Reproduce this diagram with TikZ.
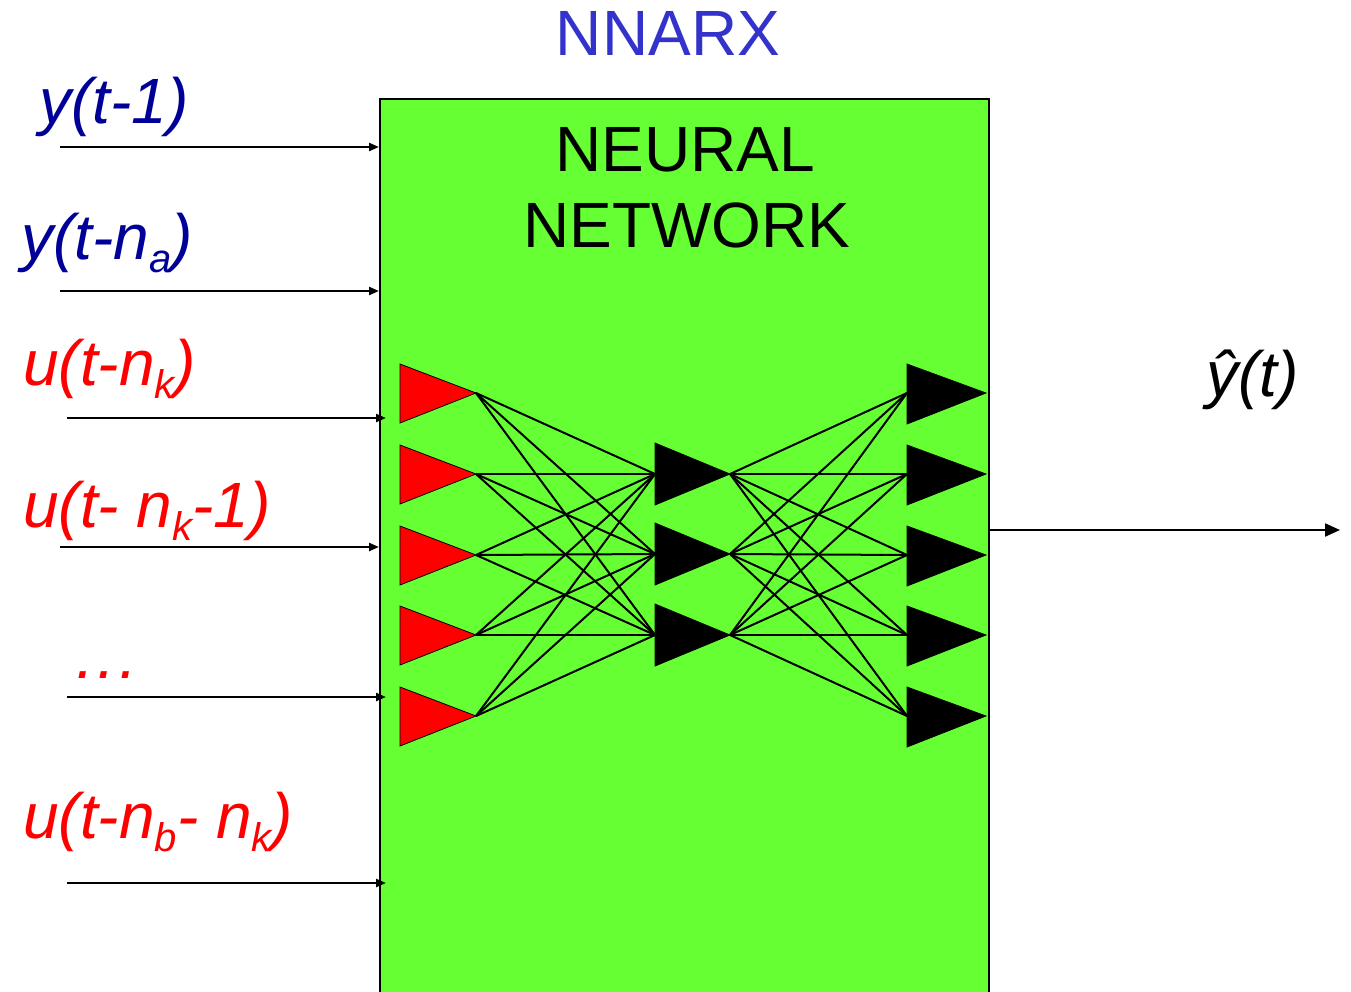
\documentclass[tikz,border=0pt]{standalone}
\usepackage{fontspec}
\setmainfont{Liberation Sans}
\usetikzlibrary{arrows.meta}
\definecolor{boxgreen}{RGB}{102,255,51}
\definecolor{titleblue}{RGB}{51,51,204}
\definecolor{ydark}{RGB}{0,0,153}
\definecolor{ured}{RGB}{255,0,0}
\newcommand{\lowsub}[1]{\raisebox{-13pt}{\fontsize{40}{40}\selectfont #1}}
\begin{document}
\begin{tikzpicture}[x=1pt,y=-1pt,
  lbl/.style={inner sep=0pt, anchor=base west, font=\fontsize{64}{70}\selectfont\itshape},
  ttl/.style={inner sep=0pt, anchor=base, font=\fontsize{64}{70}\selectfont},
  inarrow/.style={line width=2.2pt, -{Triangle[length=10pt,width=8pt]}},
  outarrow/.style={line width=2.2pt, -{Triangle[length=15pt,width=13pt]}},
  nnbox/.style={draw=black, line width=2pt, fill=boxgreen, minimum width=609pt, minimum height=900pt, inner sep=0pt},
  wire/.style={line width=2pt, black},
  redtri/.style={fill=ured, draw=black, line width=0.8pt},
  blacktri/.style={fill=black, draw=black, line width=0.8pt}]
\useasboundingbox (0,0) rectangle (1351,991);
\fill[white] (0,0) rectangle (1351,991);

% box
\node[nnbox] (nn) at (684.5,549) {};

% titles
\node[ttl, text=titleblue] (title) at (668,55) {NNARX};
\node[ttl] (neural) at (685,171) {NEURAL};
\node[ttl] (network) at (687,247) {NETWORK};

% input labels
\node[lbl, text=ydark] (l1) at (39,123) {y(t-1)};
\node[lbl, text=ydark] (l2) at (21,259) {y(t-n\lowsub{a})};
\node[lbl, text=ured] (l3) at (23,385) {u(t-n\lowsub{k})};
\node[lbl, text=ured] (l4) at (23,527) {u(t- n\lowsub{k}-1)};
\node[lbl, text=ured] (l5) at (76,678) {.\hspace{4pt}.\hspace{4pt}.};
\node[lbl, text=ured] (l6) at (23,838) {u(t-n\lowsub{b}- n\lowsub{k})};
\node[lbl, text=black] (yhat) at (1206,396) {ŷ(t)};

% input arrows
\coordinate (s1) at (60,147);
\coordinate (s2) at (60,291);
\coordinate (s3) at (67,418);
\coordinate (s4) at (60,547);
\coordinate (s5) at (67,697);
\coordinate (s6) at (67,883);
\draw[inarrow] (s1) -- (s1 -| nn.west);
\draw[inarrow] (s2) -- (s2 -| nn.west);
\draw[inarrow] (s3) -- ([xshift=7pt]s3 -| nn.west);
\draw[inarrow] (s4) -- (s4 -| nn.west);
\draw[inarrow] (s5) -- ([xshift=7pt]s5 -| nn.west);
\draw[inarrow] (s6) -- ([xshift=7pt]s6 -| nn.west);

% output arrow
\coordinate (yout) at (1340,530);
\draw[outarrow] (nn.east |- yout) -- (yout);

% network coordinates
\foreach \i/\y in {1/393,2/474,3/555,4/635,5/716}{
  \coordinate (in\i) at (476,\y);
  \coordinate (ol\i) at (907,\y);
}
\foreach \j/\y in {1/474,2/554,3/635}{
  \coordinate (hl\j) at (655,\y);
  \coordinate (hr\j) at (730,\y);
}
% wires
\foreach \i in {1,...,5}{
  \foreach \j in {1,2,3}{
    \draw[wire] (in\i) -- (hl\j);
    \draw[wire] (hr\j) -- (ol\i);
  }
}
% triangles
\foreach \y in {393,474,555,635,716}{
  \draw[redtri] (400,\y-29) -- (476,\y) -- (400,\y+30) -- cycle;
  \draw[blacktri] (907,\y-29) -- (986,\y) -- (907,\y+31) -- cycle;
}
\foreach \y in {474,554,635}{
  \draw[blacktri] (655,\y-31) -- (730,\y) -- (655,\y+31) -- cycle;
}
\end{tikzpicture}
\end{document}
